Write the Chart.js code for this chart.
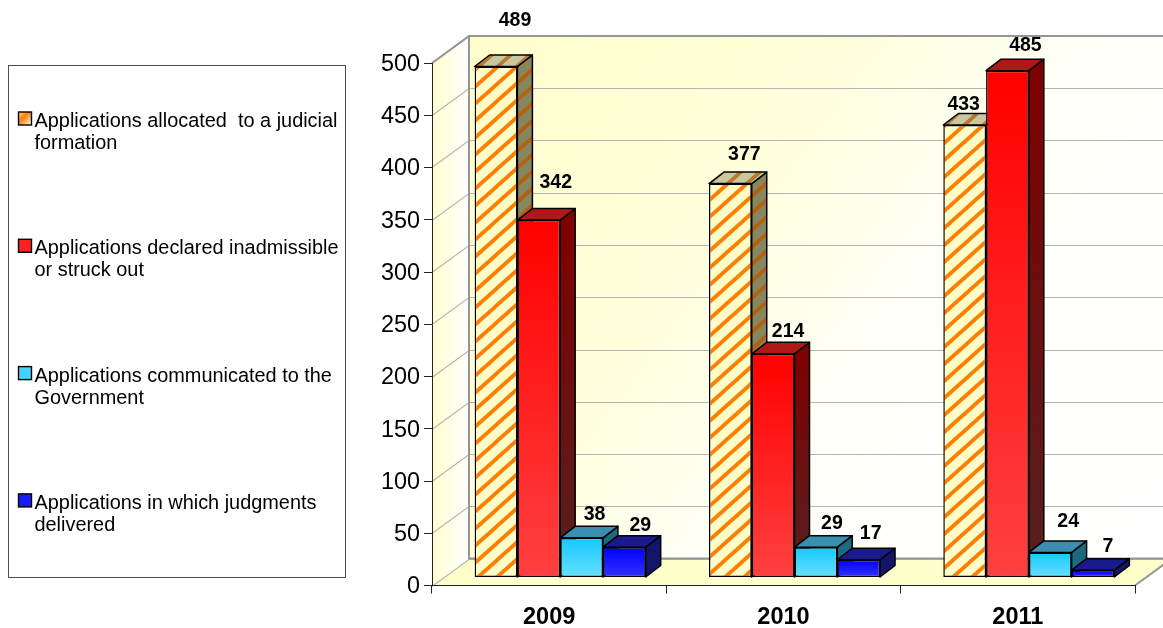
<!DOCTYPE html>
<html>
<head>
<meta charset="utf-8">
<title>Applications</title>
<script src="https://cdn.jsdelivr.net/npm/chart.js@4"></script>
<style>
body { margin: 0; background: #fff; }
canvas { display: block; }
</style>
</head>
<body>
<canvas id="chart" width="1163" height="628"></canvas>
<script>
var years = ["2009", "2010", "2011"];
var allocated = [489, 377, 433];
var inadmissible = [342, 214, 485];
var communicated = [38, 29, 24];
var judgments = [29, 17, 7];
var yTicks = [0, 50, 100, 150, 200, 250, 300, 350, 400, 450, 500];
var legendLines = [
	["Applications allocated  to a judicial", "formation"],
	["Applications declared inadmissible", "or struck out"],
	["Applications communicated to the", "Government"],
	["Applications in which judgments", "delivered"]
];

// label nudges from the top middle of each bar, per series and year
var nudgeAllocated = [[19, -46], [14, -29], [-1, -20]];
var nudgeInadmissible = [[17, -37], [15, -22], [18, -25]];
var nudgeCommunicated = [[13, -23], [16, -24], [18, -31]];
var nudgeJudgments = [[16, -22], [12, -26], [15, -24]];

// 3d look: wall sits this far behind the axes, bars a bit less
var WALL_DX = 37, WALL_DY = -27;
var BAR_DX = 11, BAR_DY = -8;
var SIDE_DX = 15, SIDE_DY = -11.5;

function stripes(bg, fg) {
	var w = 19, h = 17;
	var c = document.createElement("canvas");
	c.width = w;
	c.height = h;
	var g = c.getContext("2d");
	g.fillStyle = bg;
	g.fillRect(0, 0, w, h);
	g.strokeStyle = fg;
	g.lineWidth = 3.9;
	for (var i = -w; i <= w * 2; i += w) {
		g.beginPath();
		g.moveTo(i - w, h * 2);
		g.lineTo(i + w * 2, -h);
		g.stroke();
	}
	return g.createPattern(c, "repeat");
}

var canvasCtx = document.getElementById("chart").getContext("2d");

function barGradient(top, bottom) {
	return function (ctx) {
		var chart = ctx.chart;
		if (!chart.chartArea || ctx.raw === undefined) return top;
		var yScale = chart.scales.y;
		var grad = chart.ctx.createLinearGradient(0, yScale.getPixelForValue(ctx.raw), 0, yScale.getPixelForValue(0));
		grad.addColorStop(0, top);
		grad.addColorStop(1, bottom);
		return grad;
	};
}

function makeSeries(label, data, front, side, topFace, swatch, nudge) {
	return {
		label: label,
		data: data,
		backgroundColor: front,
		borderColor: "#000",
		borderWidth: 1.5,
		borderSkipped: false,
		clip: false,
		side: side,
		topFace: topFace,
		swatch: swatch,
		nudge: nudge
	};
}

function drawFaces(ctx, ds, meta) {
	meta.data.forEach(function (bar) {
		var p = bar.getProps(["x", "y", "base", "width"]);
		var r = p.x + p.width / 2, l = p.x - p.width / 2;
		ctx.lineWidth = 1.5;
		ctx.strokeStyle = "#000";
		ctx.lineJoin = "round";
		// right side
		var fill = ds.side;
		if (fill.length === 2) {
			var g = ctx.createLinearGradient(0, p.y, 0, p.base);
			g.addColorStop(0, fill[0]);
			g.addColorStop(1, fill[1]);
			fill = g;
		}
		ctx.fillStyle = fill;
		ctx.beginPath();
		ctx.moveTo(r, p.y);
		ctx.lineTo(r + SIDE_DX, p.y + SIDE_DY);
		ctx.lineTo(r + SIDE_DX, p.base + SIDE_DY);
		ctx.lineTo(r, p.base);
		ctx.closePath();
		ctx.fill();
		ctx.stroke();
		// top
		ctx.fillStyle = ds.topFace;
		ctx.beginPath();
		ctx.moveTo(l, p.y);
		ctx.lineTo(l + SIDE_DX, p.y + SIDE_DY);
		ctx.lineTo(r + SIDE_DX, p.y + SIDE_DY);
		ctx.lineTo(r, p.y);
		ctx.closePath();
		ctx.fill();
		ctx.stroke();
	});
}

var wall3d = {
	id: "wall3d",
	beforeDraw: function (chart) {
		var ctx = chart.ctx, a = chart.chartArea, y = chart.scales.y;
		var bx = a.left + WALL_DX, right = a.right + WALL_DX;
		var top = a.top + WALL_DY, floor = a.bottom + WALL_DY;
		ctx.save();

		// back wall fades from the top left corner
		var g = ctx.createLinearGradient(bx, top, right, floor);
		g.addColorStop(0, "#ffffcc");
		g.addColorStop(0.35, "#ffffdc");
		g.addColorStop(0.6, "#fffffa");
		g.addColorStop(1, "#ffffff");
		ctx.fillStyle = g;
		ctx.fillRect(bx, top, right - bx, floor - top);

		// side wall
		g = ctx.createLinearGradient(a.left, 0, bx, 0);
		g.addColorStop(0, "#ffffd0");
		g.addColorStop(1, "#ffffff");
		ctx.fillStyle = g;
		ctx.beginPath();
		ctx.moveTo(a.left, a.top);
		ctx.lineTo(bx, top);
		ctx.lineTo(bx, floor);
		ctx.lineTo(a.left, a.bottom);
		ctx.closePath();
		ctx.fill();

		// floor
		ctx.fillStyle = "#ffffcc";
		ctx.beginPath();
		ctx.moveTo(a.left, a.bottom);
		ctx.lineTo(bx, floor);
		ctx.lineTo(right, floor);
		ctx.lineTo(a.right, a.bottom);
		ctx.closePath();
		ctx.fill();

		// gridlines
		ctx.strokeStyle = "#b4b4b4";
		ctx.lineWidth = 1.2;
		yTicks.forEach(function (v) {
			var py = Math.round(y.getPixelForValue(v)) + 0.5;
			ctx.beginPath();
			ctx.moveTo(a.left, py);
			ctx.lineTo(bx, py + WALL_DY);
			ctx.lineTo(right, py + WALL_DY);
			ctx.stroke();
		});

		// frame of the walls
		ctx.strokeStyle = "#969696";
		ctx.lineWidth = 2;
		ctx.beginPath();
		ctx.moveTo(a.left, a.top);
		ctx.lineTo(bx, top);
		ctx.lineTo(right, top);
		ctx.moveTo(bx, top);
		ctx.lineTo(bx, floor);
		ctx.lineTo(right, floor);
		ctx.moveTo(a.right, a.bottom);
		ctx.lineTo(right, floor);
		ctx.stroke();
		ctx.restore();
	},
	// Chart.js paints the last dataset first, here the later bars have to
	// cover the sides of the earlier ones so the order is done by hand
	beforeDatasetsDraw: function (chart) {
		var ctx = chart.ctx;
		ctx.save();
		ctx.translate(BAR_DX, BAR_DY);
		chart.data.datasets.forEach(function (ds, i) {
			var meta = chart.getDatasetMeta(i);
			drawFaces(ctx, ds, meta);
			meta.controller.draw();
		});
		ctx.restore();

		ctx.save();
		ctx.font = "bold 19.5px 'Liberation Sans', Arial, sans-serif";
		ctx.fillStyle = "#000";
		ctx.textAlign = "center";
		ctx.textBaseline = "middle";
		chart.data.datasets.forEach(function (ds, i) {
			chart.getDatasetMeta(i).data.forEach(function (bar, j) {
				var p = bar.getProps(["x", "y"]);
				ctx.fillText(ds.data[j], p.x + BAR_DX + ds.nudge[j][0], p.y + BAR_DY + ds.nudge[j][1]);
			});
		});
		ctx.restore();
		return false;
	},
	afterDraw: function (chart) {
		var ctx = chart.ctx;
		ctx.save();
		ctx.fillStyle = "#fff";
		ctx.strokeStyle = "#4d4d4d";
		ctx.lineWidth = 1;
		ctx.fillRect(8.5, 65.5, 337, 512);
		ctx.strokeRect(8.5, 65.5, 337, 512);
		ctx.font = "19.9px 'Liberation Sans', Arial, sans-serif";
		ctx.textBaseline = "alphabetic";
		ctx.textAlign = "left";
		chart.data.datasets.forEach(function (ds, i) {
			var rowY = 126 + i * 127.3;
			var swatch = ds.swatch;
			if (swatch.length === 3) {
				var g = ctx.createLinearGradient(18.5, rowY - 14, 31.5, rowY - 1);
				g.addColorStop(0, swatch[0]);
				g.addColorStop(0.4, swatch[1]);
				g.addColorStop(1, swatch[2]);
				swatch = g;
			}
			ctx.fillStyle = swatch;
			ctx.fillRect(18.5, rowY - 14, 13, 13);
			ctx.strokeStyle = "#000";
			ctx.lineWidth = 1.4;
			ctx.strokeRect(18.5, rowY - 14, 13, 13);
			ctx.fillStyle = "#000";
			legendLines[i].forEach(function (line, k) {
				ctx.fillText(line, 34.5, rowY + 1 + k * 22);
			});
		});
		ctx.restore();
	}
};

var chart = new Chart(canvasCtx, {
	type: "bar",
	data: {
		labels: years,
		datasets: [
			makeSeries("Applications allocated to a judicial formation", allocated,
				stripes("#fffcc8", "#ff7d00"), stripes("#87875f", "#b5600f"), stripes("#c8c8a0", "#b87a30"), ["#ffe0a0", "#ff8000", "#ffffff"], nudgeAllocated),
			makeSeries("Applications declared inadmissible or struck out", inadmissible,
				barGradient("#ff0000", "#ff4040"), ["#800000", "#552020"], "#b01818", "#ff2020", nudgeInadmissible),
			makeSeries("Applications communicated to the Government", communicated,
				barGradient("#16c8ff", "#66e0ff"), "#1a6a80", "#3a8fb0", "#40d4ff", nudgeCommunicated),
			makeSeries("Applications in which judgments delivered", judgments,
				barGradient("#0000ff", "#3333ff"), "#14146a", "#1a1a8c", "#1a1aff", nudgeJudgments)
		]
	},
	plugins: [wall3d],
	options: {
		responsive: false,
		animation: false,
		layout: { padding: { top: 63, right: 28, left: 0, bottom: 0 } },
		plugins: { legend: { display: false }, tooltip: { enabled: false } },
		datasets: { bar: { categoryPercentage: 0.73, barPercentage: 1 } },
		scales: {
			x: {
				afterFit: function (scale) { scale.height = 42.5; },
				grid: { drawOnChartArea: false, tickLength: 8, color: "#222", tickColor: "#222" },
				border: { color: "#222", width: 1 },
				ticks: { color: "#000", padding: 10, font: { family: "'Liberation Sans', Arial, sans-serif", size: 23.5, weight: "bold" } }
			},
			y: {
				min: 0,
				max: 500,
				afterFit: function (scale) { scale.width = 432; },
				afterBuildTicks: function (scale) {
					scale.ticks = yTicks.map(function (v) { return { value: v }; });
				},
				grid: { drawOnChartArea: false, tickLength: 8, color: "#222", tickColor: "#222" },
				border: { color: "#222", width: 1 },
				ticks: { color: "#000", padding: 4, labelOffset: 1.5, font: { family: "'Liberation Sans', Arial, sans-serif", size: 23.4 } }
			}
		}
	}
});
</script>
</body>
</html>
